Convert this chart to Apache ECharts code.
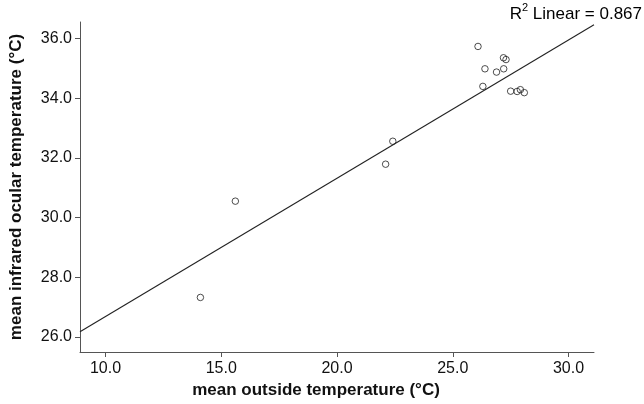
<!DOCTYPE html>
<html>
<head>
<meta charset="utf-8">
<script src="https://cdn.jsdelivr.net/npm/echarts@6/dist/echarts.min.js"></script>
<style>
  html, body { margin: 0; padding: 0; background: #fff; }
  #chart { width: 644px; height: 404px; }
</style>
</head>
<body>
<div id="chart"></div>
<script>
// Data
const outsideTemp = [26.09, 27.19, 27.30, 26.39, 26.89, 27.20, 26.30, 27.50, 27.78, 27.92, 28.09, 22.10, 22.41, 15.61, 14.10];
const ocularTemp  = [35.74, 35.36, 35.30, 34.99, 34.88, 34.99, 34.40, 34.24, 34.23, 34.29, 34.19, 31.79, 32.56, 30.55, 27.32];
const fitLineX = [8.9, 31.1];
const fitLineY = [26.17, 36.47];
const xTicks = [10, 15, 20, 25, 30];
const yTicks = [26, 28, 30, 32, 34, 36];
const xTitle = 'mean outside temperature (°C)';
const yTitle = 'mean infrared ocular temperature (°C)';
const r2Text = 'Linear = 0.867';

const points = outsideTemp.map((x, i) => [x, ocularTemp[i]]);
const fitLine = fitLineX.map((x, i) => [x, fitLineY[i]]);

const FONT = 'Liberation Sans, Arial, Helvetica, sans-serif';
const AXIS_COLOR = '#555';

const chart = echarts.init(document.getElementById('chart'), null, { renderer: 'canvas' });
chart.setOption({
  animation: false,
  backgroundColor: '#fff',
  textStyle: { fontFamily: FONT },
  grid: { left: 68, right: 50, top: 22, bottom: 52, containLabel: false },
  xAxis: {
    type: 'value',
    min: 8.9, max: 31.1,
    name: xTitle,
    nameLocation: 'middle',
    nameGap: 30,
    nameTextStyle: { fontFamily: FONT, fontSize: 17, fontWeight: 'bold', color: '#111', padding: [0, 42, 0, 0] },
    axisLine: { show: true, lineStyle: { color: AXIS_COLOR, width: 1 } },
    axisTick: { show: true, length: 5, inside: false, customValues: xTicks, lineStyle: { color: AXIS_COLOR } },
    axisLabel: { show: true, customValues: xTicks, margin: 9, fontSize: 16, color: '#111', fontFamily: FONT,
      formatter: v => v.toFixed(1) },
    splitLine: { show: false }
  },
  yAxis: {
    type: 'value',
    min: 25.49, max: 36.56,
    name: yTitle,
    nameLocation: 'middle',
    nameGap: 55,
    nameTextStyle: { fontFamily: FONT, fontSize: 17, fontWeight: 'bold', color: '#111' },
    axisLine: { show: true, lineStyle: { color: AXIS_COLOR, width: 1 } },
    axisTick: { show: true, length: 5, inside: false, customValues: yTicks, lineStyle: { color: AXIS_COLOR } },
    axisLabel: { show: true, customValues: yTicks, margin: 8, fontSize: 16, color: '#111', fontFamily: FONT,
      formatter: v => v.toFixed(1) },
    splitLine: { show: false }
  },
  series: [
    {
      type: 'line',
      data: fitLine,
      symbol: 'none',
      silent: true,
      lineStyle: { color: '#222', width: 1.1 },
      z: 1
    },
    {
      type: 'scatter',
      data: points,
      symbol: 'circle',
      symbolSize: 6.5,
      itemStyle: { color: 'rgba(0,0,0,0)', borderColor: '#222', borderWidth: 1 },
      z: 2
    }
  ],
  graphic: [
    {
      type: 'text',
      right: 2,
      top: 2,
      style: {
        text: '{r|R}{s|2}{r| ' + r2Text + '}',
        rich: {
          r: { fontFamily: FONT, fontSize: 17, color: '#111', lineHeight: 21, verticalAlign: 'bottom' },
          s: { fontFamily: FONT, fontSize: 11, color: '#111', lineHeight: 21, verticalAlign: 'top' }
        }
      }
    }
  ]
});
</script>
</body>
</html>
